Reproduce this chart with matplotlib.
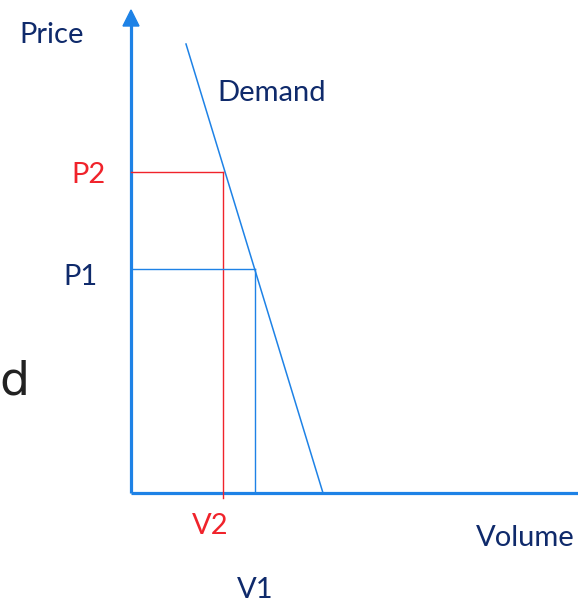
import matplotlib.pyplot as plt
import numpy as np

# chart units: origin at the axes corner, one unit ~ one pixel
demand_vol = [55, 192]
demand_price = [449, 0]
p2, v2 = 321, 92
p1, v1 = 224, 124
x_max, y_max = 447, 483

navy = '#0f2a6b'
blue = '#1e82e6'
red = '#f0232b'

plt.rcParams['font.family'] = ['Lato', 'DejaVu Sans']

fig = plt.figure(figsize=(5.78, 6.03), dpi=100)
ax = fig.add_axes([0, 0, 1, 1])
ax.set_xlim(-131, 447)
ax.set_ylim(-110, 493)
ax.axis('off')

# axes with arrows
ax.plot([0, 0], [0, y_max - 14], color=blue, lw=2.3, solid_capstyle='butt')
ax.plot([0, x_max], [0, 0], color=blue, lw=2.3, solid_capstyle='butt')
ax.fill([-8, 8, 0], [y_max - 16, y_max - 16, y_max], color=blue)

# demand curve
ax.plot(demand_vol, demand_price, color=blue, lw=1.1)

# P2 / V2
ax.plot([0, v2], [p2, p2], color=red, lw=1.0)
ax.plot([v2, v2], [p2, -5], color=red, lw=1.0)
# P1 / V1
ax.plot([0, v1], [p1, p1], color=blue, lw=1.0)
ax.plot([v1, v1], [p1, 0], color=blue, lw=1.0)

fs = 21
ax.text(-79, 458, 'Price', color=navy, fontsize=fs, ha='center', va='center')
ax.text(141, 400, 'Demand', color=navy, fontsize=fs, ha='center', va='center')
ax.text(-43, 318, 'P2', color=red, fontsize=fs, ha='center', va='center')
ax.text(-51, 216, 'P1', color=navy, fontsize=fs, ha='center', va='center')
ax.text(-117, 111, 'd', color='#222222', fontsize=34, ha='center', va='center',
        family='DejaVu Sans')
ax.text(v2 - 13, -33, 'V2', color=red, fontsize=fs, ha='center', va='center')
ax.text(394, -45, 'Volume', color=navy, fontsize=fs, ha='center', va='center')
ax.text(v1, -97, 'V1', color=navy, fontsize=fs, ha='center', va='center')

fig.savefig('out.png', dpi=100)
